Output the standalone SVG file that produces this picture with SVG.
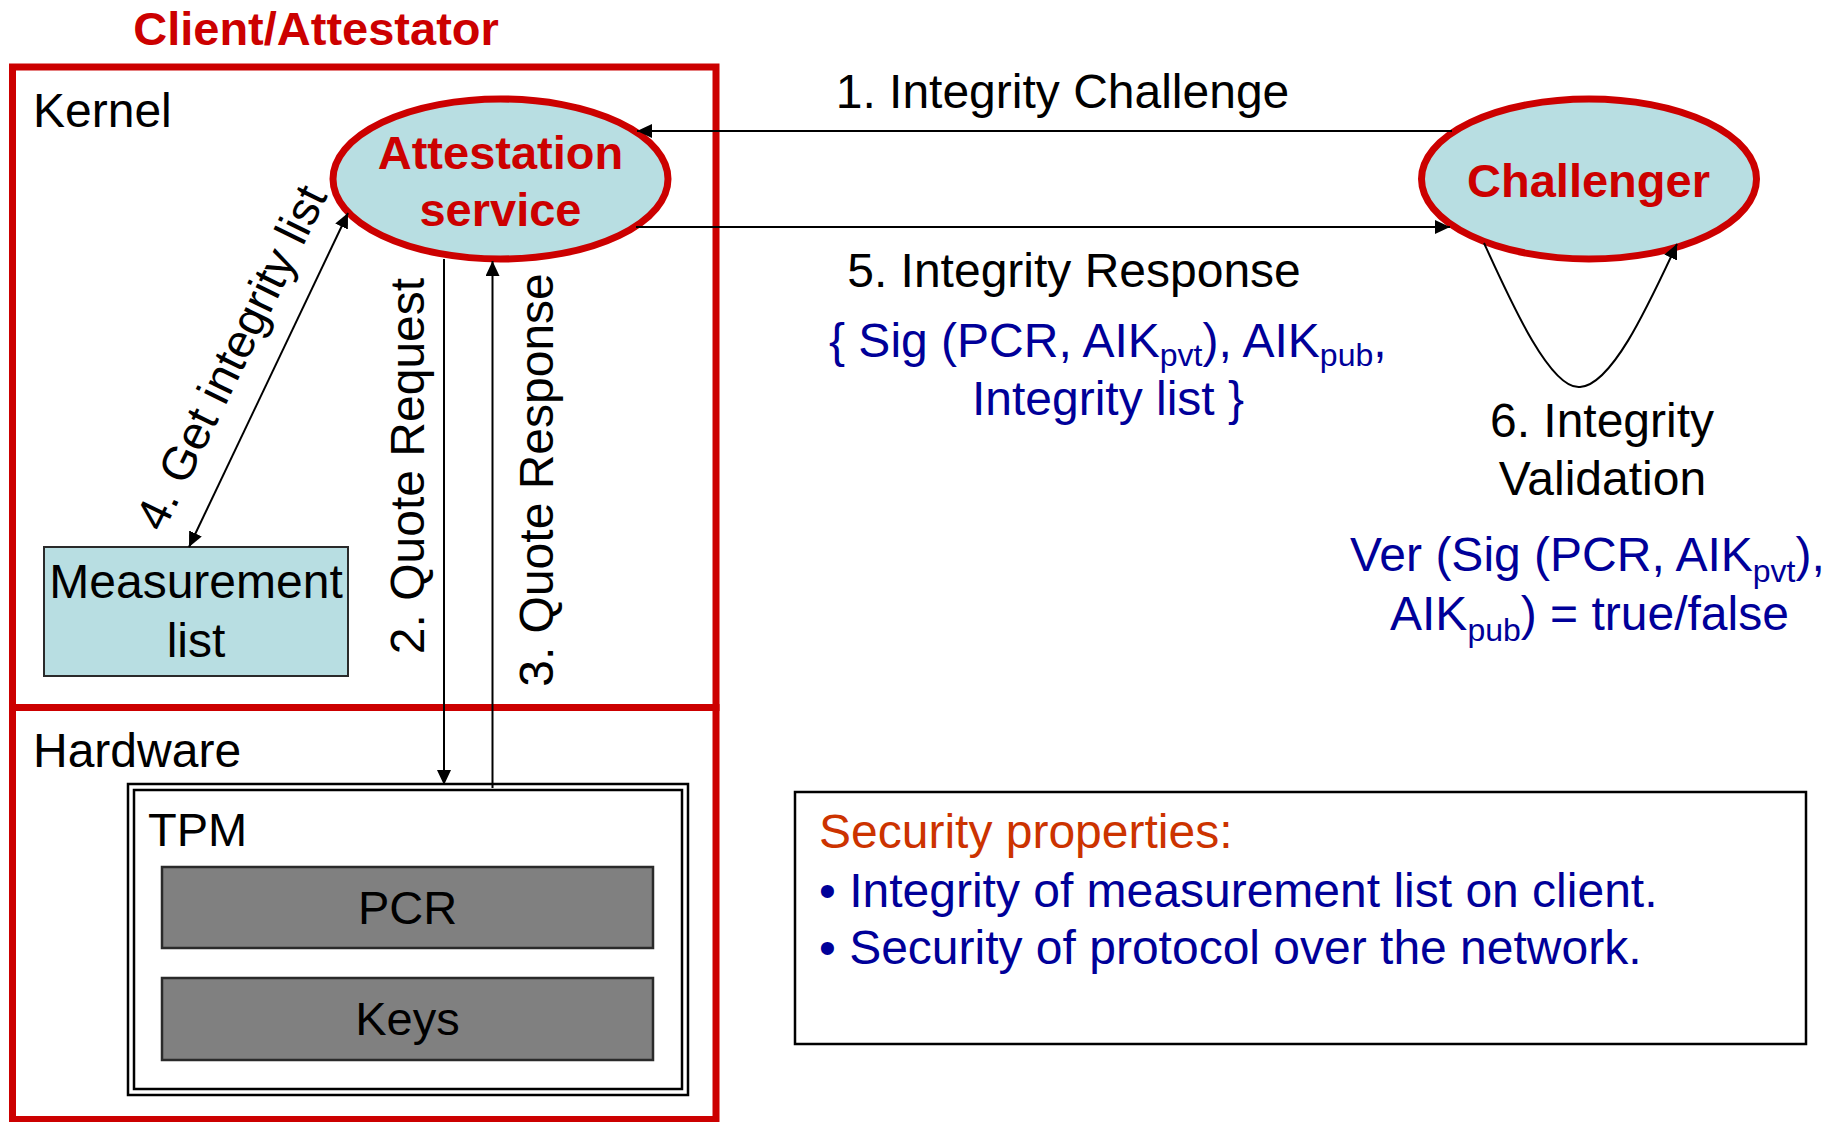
<svg xmlns="http://www.w3.org/2000/svg" width="1839" height="1122" viewBox="0 0 1839 1122">
  <style>
    text { font-family: "Liberation Sans", Arial, sans-serif; }
    .lbl { font-size: 48px; fill: #000; }
    .red { fill: #CC0000; font-weight: bold; font-size: 47px; }
    .blue { fill: #000099; font-size: 48px; }
    .sub { font-size: 32px; }
    .zone { fill: none; stroke: #CC0000; stroke-width: 7; }
    .oval { fill: #B8DEE2; stroke: #CC0000; stroke-width: 7; }
    .conn { fill: none; stroke: #000; stroke-width: 2; }
    .reg { fill: #808080; stroke: #2a2a2a; stroke-width: 2.5; }
  </style>
  <defs>
    <marker id="arrow" markerUnits="userSpaceOnUse" viewBox="0 0 15 14" refX="15" refY="7" markerWidth="15" markerHeight="14" orient="auto-start-reverse">
      <path d="M0,0 L15,7 L0,14 z" fill="#000"/>
    </marker>
  </defs>

  <rect width="1839" height="1122" fill="#fff"/>

  <!-- client side -->
  <text id="client-title" class="red" x="316" y="45" text-anchor="middle">Client/Attestator</text>

  <g id="kernel">
    <rect class="zone" x="12.5" y="67" width="703.5" height="640.5"/>
    <text class="lbl" x="33" y="127">Kernel</text>
  </g>

  <g id="hardware">
    <rect class="zone" x="12.5" y="707.5" width="703.5" height="412"/>
    <text class="lbl" x="33" y="767">Hardware</text>
  </g>

  <g id="attestation-service">
    <ellipse class="oval" cx="500.5" cy="179" rx="167.5" ry="80"/>
    <text class="red" x="500.5" y="169" text-anchor="middle">Attestation</text>
    <text class="red" x="500.5" y="226" text-anchor="middle">service</text>
  </g>

  <g id="measurement-list">
    <rect x="44" y="547" width="304" height="129" fill="#B8DEE2" stroke="#2a2a2a" stroke-width="2"/>
    <text class="lbl" x="196" y="598" text-anchor="middle">Measurement</text>
    <text class="lbl" x="196" y="657" text-anchor="middle">list</text>
  </g>

  <g id="tpm">
    <rect x="128" y="784" width="560" height="311" fill="#fff" stroke="#000" stroke-width="2.5"/>
    <rect x="134" y="790" width="548" height="299" fill="none" stroke="#000" stroke-width="2.5"/>
    <text class="lbl" x="148" y="846" style="font-size:47px">TPM</text>
  </g>

  <g id="pcr">
    <rect class="reg" x="162" y="867" width="491" height="81"/>
    <text class="lbl" x="407.5" y="924" text-anchor="middle" style="font-size:47px">PCR</text>
  </g>

  <g id="keys">
    <rect class="reg" x="162" y="978" width="491" height="82"/>
    <text class="lbl" x="407.5" y="1035" text-anchor="middle" style="font-size:47px">Keys</text>
  </g>

  <!-- remote side -->
  <g id="challenger">
    <ellipse class="oval" cx="1589" cy="179" rx="167.5" ry="80"/>
    <text class="red" x="1588.5" y="197" text-anchor="middle">Challenger</text>
  </g>

  <g id="security-properties">
    <rect x="795" y="792" width="1011" height="252" fill="#fff" stroke="#000" stroke-width="2.5"/>
    <text x="819" y="848" style="font-size:48px" fill="#CC3300">Security properties:</text>
    <text class="blue" x="819" y="907">• Integrity of measurement list on client.</text>
    <text class="blue" x="819" y="964">• Security of protocol over the network.</text>
  </g>

  <!-- connectors -->
  <g id="connectors">
    <line class="conn" x1="1452" y1="131" x2="637" y2="131" marker-end="url(#arrow)"/>
    <line class="conn" x1="636" y1="227" x2="1450" y2="227" marker-end="url(#arrow)"/>
    <line class="conn" x1="444" y1="259" x2="444" y2="785" marker-end="url(#arrow)"/>
    <line class="conn" x1="492.5" y1="788" x2="492.5" y2="261" marker-end="url(#arrow)"/>
    <line class="conn" x1="189" y1="547" x2="348" y2="213" marker-start="url(#arrow)" marker-end="url(#arrow)"/>
    <path class="conn" d="M1484,243 C1510,300 1550,390 1580,387 C1612,385 1648,306 1677,244" marker-end="url(#arrow)"/>
  </g>

  <!-- connector labels -->
  <g id="labels">
    <text class="lbl" x="1062.5" y="108" text-anchor="middle">1. Integrity Challenge</text>
    <text class="lbl" x="1074" y="287" text-anchor="middle">5. Integrity Response</text>
    <text class="blue" x="829" y="357">{ Sig (PCR, AIK<tspan class="sub" dy="9">pvt</tspan><tspan dy="-9">), AIK</tspan><tspan class="sub" dy="9">pub</tspan><tspan dy="-9">,</tspan></text>
    <text class="blue" x="1108" y="415" text-anchor="middle">Integrity list }</text>

    <text class="lbl" transform="translate(423.5,466) rotate(-90)" text-anchor="middle">2. Quote Request</text>
    <text class="lbl" transform="translate(553,480) rotate(-90)" text-anchor="middle">3. Quote Response</text>
    <text class="lbl" style="font-size:47px" transform="translate(245.5,364.5) rotate(-64)" text-anchor="middle">4. Get integrity list</text>

    <text class="lbl" x="1602" y="437" text-anchor="middle">6. Integrity</text>
    <text class="lbl" x="1602.5" y="495" text-anchor="middle">Validation</text>
    <text class="blue" x="1350" y="571">Ver (Sig (PCR, AIK<tspan class="sub" dy="11">pvt</tspan><tspan dy="-11">),</tspan></text>
    <text class="blue" x="1390" y="630">AIK<tspan class="sub" dy="11">pub</tspan><tspan dy="-11">) = true/false</tspan></text>
  </g>
</svg>
